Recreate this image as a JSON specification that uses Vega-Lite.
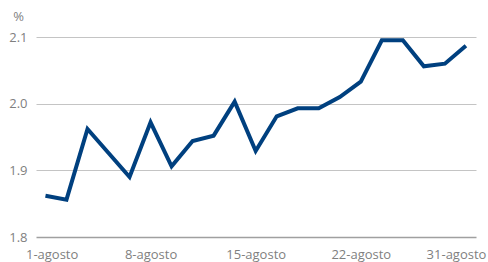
{
  "$schema": "https://vega.github.io/schema/vega-lite/v6.json",
  "width": 440,
  "height": 200,
  "autosize": {"type": "none"},
  "padding": {"left": 36, "top": 37, "right": 12, "bottom": 25},
  "background": "white",
  "config": {
    "view": {"stroke": null},
    "font": "Open Sans"
  },
  "data": {
    "values": [
      {"n": 1, "valor": 1.862},
      {"n": 2, "valor": 1.856},
      {"n": 3, "valor": 1.962},
      {"n": 4, "valor": 1.926},
      {"n": 5, "valor": 1.890},
      {"n": 6, "valor": 1.972},
      {"n": 7, "valor": 1.906},
      {"n": 8, "valor": 1.944},
      {"n": 9, "valor": 1.952},
      {"n": 10, "valor": 2.003},
      {"n": 11, "valor": 1.929},
      {"n": 12, "valor": 1.981},
      {"n": 13, "valor": 1.993},
      {"n": 14, "valor": 1.993},
      {"n": 15, "valor": 2.010},
      {"n": 16, "valor": 2.033},
      {"n": 17, "valor": 2.095},
      {"n": 18, "valor": 2.095},
      {"n": 19, "valor": 2.056},
      {"n": 20, "valor": 2.060},
      {"n": 21, "valor": 2.087}
    ]
  },
  "mark": {"type": "line", "color": "#00407f", "strokeWidth": 4},
  "encoding": {
    "x": {
      "field": "n",
      "type": "quantitative",
      "scale": {"domain": [0.55, 21.48], "nice": false, "zero": false},
      "axis": {
        "title": null,
        "values": [1, 6, 11, 16, 21],
        "labelExpr": "datum.value == 1 ? '1-agosto' : datum.value == 6 ? '8-agosto' : datum.value == 11 ? '15-agosto' : datum.value == 16 ? '22-agosto' : '31-agosto'",
        "grid": false,
        "domain": false,
        "ticks": false,
        "labelPadding": 11,
        "labelFontSize": 13,
        "labelColor": "#7f7f7f",
        "labelFlush": 15,
        "labelFlushOffset": 20,
        "labelOverlap": false
      }
    },
    "y": {
      "field": "valor",
      "type": "quantitative",
      "scale": {"domain": [1.8, 2.1], "nice": false, "zero": false},
      "axis": {
        "values": [1.8, 1.9, 2.0, 2.1],
        "format": ".1f",
        "title": "%",
        "titleAngle": 0,
        "titleX": -18,
        "titleY": -21,
        "titleAlign": "center",
        "titleBaseline": "middle",
        "titleFontWeight": "normal",
        "titleFontSize": 13,
        "titleColor": "#7f7f7f",
        "domain": false,
        "ticks": false,
        "labelPadding": 9,
        "labelFontSize": 13,
        "labelColor": "#7f7f7f",
        "gridColor": {"condition": {"test": "datum.value === 1.8", "value": "#a0a0a0"}, "value": "#c4c4c4"},
        "gridWidth": {"condition": {"test": "datum.value === 1.8", "value": 1.5}, "value": 1}
      }
    }
  }
}
